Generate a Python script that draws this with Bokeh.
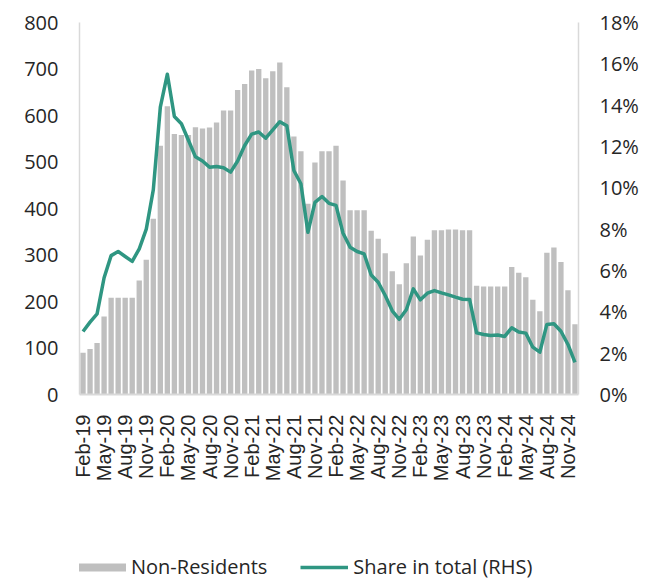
import numpy as np
from bokeh.plotting import figure
from bokeh.layouts import column
from bokeh.models import (Range1d, LinearAxis, FixedTicker, NumeralTickFormatter,
                          Legend, LegendItem, ColumnDataSource)
from bokeh.embed import file_html
from bokeh.resources import INLINE

# ---- data (monthly, Feb-19 .. Dec-24) ----
tick_labels = ["Feb-19", "May-19", "Aug-19", "Nov-19", "Feb-20", "May-20", "Aug-20", "Nov-20",
               "Feb-21", "May-21", "Aug-21", "Nov-21", "Feb-22", "May-22", "Aug-22", "Nov-22",
               "Feb-23", "May-23", "Aug-23", "Nov-23", "Feb-24", "May-24", "Aug-24", "Nov-24"]

non_residents = [90, 98, 111, 168, 208, 208, 208, 208, 245, 290, 378, 535, 620,
                 560, 558, 558, 575, 572, 574, 585, 611, 611, 655, 668, 697, 700,
                 680, 695, 714, 661, 555, 523, 410, 499, 523, 523, 535, 460, 396,
                 396, 396, 352, 335, 304, 265, 237, 282, 340, 299, 333, 353, 353,
                 355, 355, 353, 353, 234, 232, 232, 232, 232, 274, 262, 252, 204,
                 179, 305, 316, 285, 224, 151]

share_pct = [3.05, 3.5, 3.9, 5.65, 6.72, 6.92, 6.68, 6.44, 7.05, 8.0, 9.9, 13.9, 15.5,
             13.45, 13.1, 12.3, 11.5, 11.3, 11.0, 11.03, 10.97, 10.76, 11.3, 12.05, 12.6,
             12.7, 12.4, 12.8, 13.2, 13.0, 10.84, 10.2, 7.85, 9.3, 9.58, 9.25, 9.15, 7.8,
             7.13, 6.92, 6.8, 5.78, 5.43, 4.79, 4.05, 3.64, 4.1, 5.11, 4.58, 4.9, 5.03,
             4.92, 4.82, 4.71, 4.61, 4.6, 2.98, 2.9, 2.85, 2.88, 2.81, 3.23, 3.02, 2.97,
             2.29, 2.05, 3.39, 3.42, 3.06, 2.42, 1.55]

left_ticks = [0, 100, 200, 300, 400, 500, 600, 700, 800]
right_ticks = [0, 0.02, 0.04, 0.06, 0.08, 0.10, 0.12, 0.14, 0.16, 0.18]

n = len(non_residents)
src = ColumnDataSource(dict(
    x=list(range(n)),
    nr=non_residents,
    share=[v / 100.0 for v in share_pct],
))

FONT = "Open Sans"
TXT = "#262626"
BAR_C = "#bfbfbf"
LINE_C = "#2f9682"

W, H1, H2 = 656, 545, 36
p = figure(width=W, height=H1,
           x_range=Range1d(-0.5, n - 0.5), y_range=Range1d(0, 800),
           output_backend="svg", toolbar_location=None,
           min_border_left=79, min_border_right=W - 578, min_border_top=22,
           min_border_bottom=H1 - 394)
p.extra_y_ranges = {"pct": Range1d(0, 0.18)}
p.xgrid.visible = False
p.ygrid.visible = False
p.outline_line_color = None

p.vbar(x="x", top="nr", width=0.76, fill_color=BAR_C, line_color=None, source=src)
p.line(x="x", y="share", y_range_name="pct", line_color=LINE_C, line_width=3.5,
       line_join="round", source=src)

ya = p.yaxis[0]
ya.ticker = FixedTicker(ticks=left_ticks)
ra = LinearAxis(y_range_name="pct", ticker=FixedTicker(ticks=right_ticks),
                formatter=NumeralTickFormatter(format="0%"))
p.add_layout(ra, "right")

for ax in (ya, ra):
    ax.axis_line_color = "#d9d9d9"
    ax.axis_line_width = 1.5
    ax.major_tick_line_color = None
    ax.minor_tick_line_color = None
    ax.major_tick_out = 0
    ax.major_label_standoff = 21
    ax.major_label_text_font = FONT
    ax.major_label_text_font_size = "20px"
    ax.major_label_text_color = TXT

xa = p.xaxis[0]
xa.ticker = FixedTicker(ticks=[3 * k for k in range(len(tick_labels))])
xa.major_label_overrides = {3 * k: lab for k, lab in enumerate(tick_labels)}
xa.major_label_orientation = np.pi / 2
xa.axis_line_color = "#d9d9d9"
xa.axis_line_width = 2
xa.major_tick_line_color = None
xa.minor_tick_line_color = None
xa.major_tick_out = 0
xa.major_label_standoff = 20
xa.major_label_text_font = "Liberation Sans"
xa.major_label_text_font_size = "20px"
xa.major_label_text_color = TXT

# ---- legend strip below the chart (its frame aligns with the chart frame) ----
q = figure(width=W, height=H2, x_range=Range1d(0, 1), y_range=Range1d(0, 1),
           output_backend="svg", toolbar_location=None,
           x_axis_location=None, y_axis_location=None,
           min_border_left=0, min_border_right=0, min_border_top=0, min_border_bottom=0)
q.xgrid.visible = False
q.ygrid.visible = False
q.outline_line_color = None
# key renderers hold points outside the visible range, so only their legend glyphs show
k_bar = q.line(x=[5, 6], y=[5, 5], line_color=BAR_C, line_width=8, line_cap="butt")
k_line = q.line(x=[5, 6], y=[5, 5], line_color=LINE_C, line_width=3.5)

legend = Legend(items=[LegendItem(label="Non-Residents", renderers=[k_bar]),
                       LegendItem(label="Share in total (RHS)", renderers=[k_line])],
                location=(-1, 1), orientation="horizontal",
                glyph_width=48, glyph_height=20, label_height=20,
                label_standoff=5, padding=0, margin=0, spacing=33,
                border_line_color=None, background_fill_alpha=0,
                label_text_font=FONT, label_text_font_size="20px",
                label_text_color=TXT)
q.add_layout(legend)

open("out.html", "w").write(file_html(column(p, q, spacing=0), INLINE))
